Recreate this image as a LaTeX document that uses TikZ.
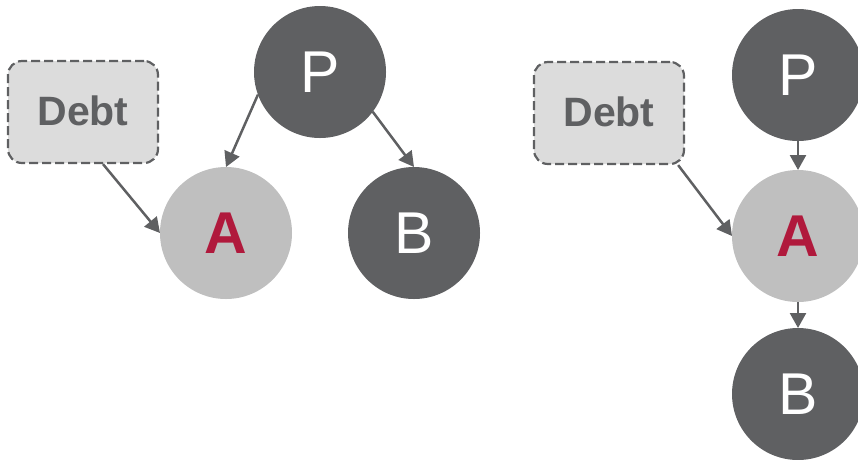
\documentclass[tikz,border=0pt]{standalone}
\usepackage{fontspec}
\setmainfont{Liberation Sans}
\usetikzlibrary{arrows.meta}
\definecolor{darkgr}{HTML}{5F6062}
\definecolor{lightgr}{HTML}{BFBFBF}
\definecolor{boxgr}{HTML}{DCDCDC}
\definecolor{crim}{HTML}{B0193C}

\begin{document}
\begin{tikzpicture}[x=1pt,y=-1pt,
	dark/.style={circle,fill=darkgr,text=white,inner sep=0,outer sep=0,minimum size=132pt,font=\fontsize{59}{59}\selectfont},
	light/.style={circle,fill=lightgr,text=crim,inner sep=0,outer sep=0,minimum size=132pt,font=\fontsize{59}{59}\selectfont\bfseries},
	debt/.style={draw=darkgr,fill=boxgr,text=darkgr,line width=2.2pt,dash pattern=on 9pt off 4pt,rounded corners=14pt,minimum width=150pt,minimum height=102pt,font=\fontsize{41}{41}\selectfont\bfseries},
	edge/.style={draw=darkgr,line width=2.5pt,-{Triangle[length=15pt,width=16pt]}}]
	\useasboundingbox (0,0) rectangle (858,459);
	% left
	\node[debt] (d1) at (83,112) {\raisebox{3pt}{Debt}};
	\node[dark] (p1) at (320,72) {P};
	\node[light] (a1) at (226,233) {A};
	\node[dark] (b1) at (414,233) {B};
	\draw[edge] (d1.-69) -- (a1.west);
	\draw[edge] (p1.200) -- (a1.north);
	\draw[edge] (p1.-37) -- (b1.north);
	% right
	\node[debt] (d2) at (609,113) {\raisebox{3pt}{Debt}};
	\node[dark] (p2) at (798,75) {P};
	\node[light] (a2) at (798,236) {A};
	\node[dark] (b2) at (798,394) {B};
	\draw[edge] (d2.-37) -- (a2.west);
	\draw[edge] (p2) -- (a2);
	\draw[edge] (a2) -- (b2);
\end{tikzpicture}
\end{document}
